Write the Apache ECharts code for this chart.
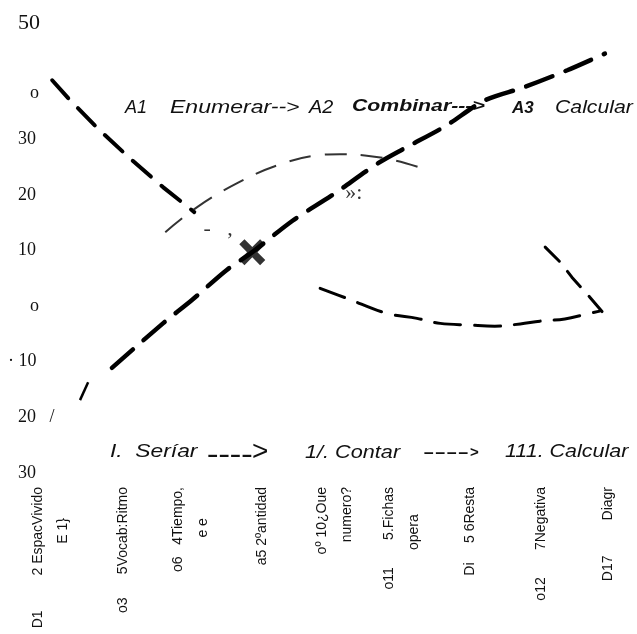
<!DOCTYPE html>
<html><head><meta charset="utf-8">
<script src="https://cdn.jsdelivr.net/npm/echarts@6/dist/echarts.min.js"></script>
<style>html,body{margin:0;padding:0;background:#fff}#c{width:637px;height:634px}</style>
</head><body><div id="c"></div>
<script>
// y axis ticks and their (scanned) labels
const yTickValues = [50, 40, 30, 20, 10, 0, -10, -20, -30];
const yTickLabels = ["50", "o", "30", "20", "10", "o", "· 10", "20   /", "30"];
const yTickStyle  = ["big", "low", "n", "n", "n", "o", "d", "n", "n"];

// x axis category positions and labels
const xLabelPos = [1.8, 14.3, 25.9, 38.3, 50.8, 62.4, 74.1, 86.4, 97.9];
const xLabels = [
  "D1         2 EspacVivido\nE 1}        ",
  "o3      5Vocab:Ritmo",
  "o6   4Tiempo,\ne e        ",
  "a5 2ºantidad",
  "oº 10¿Oue\nnumero?",
  "o11       5.Fichas\nopera       ",
  "Di     5 6Resta",
  "o12       7Negativa",
  "D17         Diagr"
];

// A1 Enumerar (heavy descending dashed line)
const enumX = [2.1, 5.2, 10.3, 15.9, 21.2, 26.6];
const enumY = [40.6, 37.0, 31.6, 26.2, 21.4, 16.9];
// lower arc
const lowX = [48.3, 52.9, 59.8, 65.0, 69.0, 74.1, 78.4, 82.8, 86.2, 90.5, 94.3, 96.5];
const lowY = [3.2, 1.4, -1.3, -2.2, -3.1, -3.4, -3.6, -3.2, -2.7, -2.3, -1.4, -0.9];
// right descending segment
const rightX = [87.1, 89.7, 91.7, 94.8, 97.9];
const rightY = [10.6, 7.9, 5.2, 1.6, -2.2];
// heavy ascending dashed line
const riseX = [12.4, 21.2, 26.2, 32.2, 36.6, 43.6, 50.3, 58.3, 62.9, 69.8, 76.7, 83.3, 90.9, 97.4];
const riseY = [-11.1, -3.1, 1.1, 6.5, 9.7, 15.4, 19.9, 25.7, 28.4, 32.3, 37.0, 39.3, 42.4, 45.4];
// thin arc
const arcX = [21.6, 27.1, 34.0, 40.9, 47.8, 51.7, 56.0, 61.2, 65.9];
const arcY = [13.3, 17.8, 22.1, 25.3, 27.1, 27.3, 27.1, 26.2, 24.8];
// short slash
const slashX = [6.9, 8.3];
const slashY = [-16.9, -13.7];
// cross mark and stray glyphs
const crossPt = [36.6, 9.7];
const glyphPts = [[30.7, 13.8], [54.1, 20.3]];
const glyphTexts = ["-   ,", "»:"];

const zip = (a, b) => a.map((v, i) => [v, b[i]]);
const chart = echarts.init(document.getElementById('c'));
const heavy = (w, d) => ({ color: '#000', width: w, type: d, cap: 'round' });
const txt = (x, y, text, font, sx) => ({
  type: 'text', x: x, y: y, scaleX: sx || 1,
  style: { text: text, font: font, fill: '#111', align: 'left', verticalAlign: 'middle' }
});

chart.setOption({
  animation: false,
  backgroundColor: '#fff',
  grid: { left: 40, right: 17, top: 28, bottom: 161 },
  xAxis: {
    type: 'value', min: 0, max: 100,
    axisLine: { show: false }, axisTick: { show: false }, splitLine: { show: false },
    axisLabel: {
      customValues: xLabelPos,
      rotate: 90, margin: 14, color: '#111',
      fontFamily: 'Liberation Sans', fontSize: 14, lineHeight: 25,
      hideOverlap: false,
      formatter: v => { const i = xLabelPos.indexOf(v); return i >= 0 ? xLabels[i] : ''; }
    }
  },
  yAxis: {
    type: 'value', min: -30, max: 50, interval: 10,
    axisLine: { show: false }, axisTick: { show: false }, splitLine: { show: false },
    axisLabel: {
      align: 'left', margin: 32, color: '#111',
      formatter: v => {
        const i = yTickValues.indexOf(v);
        return i >= 0 ? '{' + yTickStyle[i] + '|' + yTickLabels[i] + '}' : '';
      },
      rich: {
        n: { fontFamily: 'Liberation Serif', fontSize: 18, padding: [0, 0, 0, 10] },
        d: { fontFamily: 'Liberation Serif', fontSize: 18, padding: [0, 0, 0, 0] },
        o: { fontFamily: 'Liberation Serif', fontSize: 18, padding: [0, 0, 0, 22] },
        low: { fontFamily: 'Liberation Serif', fontSize: 18, padding: [20, 0, 0, 22] },
        big: { fontFamily: 'Liberation Serif', fontSize: 22, padding: [0, 0, 10, 10] }
      }
    }
  },
  series: [
    { type: 'line', data: zip(enumX, enumY), symbol: 'none', lineStyle: heavy(4, [24, 14]) },
    { type: 'line', data: zip(lowX, lowY), symbol: 'none', smooth: 0.4, lineStyle: heavy(3, [26, 14]) },
    { type: 'line', data: zip(rightX, rightY), symbol: 'none', lineStyle: heavy(3, [20, 13]) },
    { type: 'line', data: zip(riseX, riseY), symbol: 'none', smooth: 0.3, lineStyle: heavy(4.5, [28, 14]) },
    { type: 'line', data: zip(arcX, arcY), symbol: 'none', smooth: 0.4, lineStyle: { color: '#333', width: 2, type: [22, 14] } },
    { type: 'line', data: zip(slashX, slashY), symbol: 'none', lineStyle: { color: '#000', width: 2.5 } },
    { type: 'scatter', data: [crossPt], symbolSize: 26,
      symbol: 'path://M0,2 L2,0 L5,3 L8,0 L10,2 L7,5 L10,8 L8,10 L5,7 L2,10 L0,8 L3,5 Z',
      itemStyle: { color: '#000' } },
    { type: 'scatter', symbolSize: 0,
      data: glyphPts.map((p, i) => ({ value: p, label: { show: true, formatter: glyphTexts[i] } })),
      label: { position: 'inside', color: '#000', fontFamily: 'Liberation Serif', fontSize: 22 } }
  ],
  graphic: [
    txt(125, 108, 'A1', 'italic 18px "Liberation Sans"'),
    txt(170, 108, 'Enumerar-->', 'italic 18px "Liberation Sans"', 1.28),
    txt(309, 108, 'A2', 'italic 18px "Liberation Sans"', 1.1),
    txt(352, 106, 'Combinar--->', 'italic bold 17px "Liberation Sans"', 1.25),
    txt(512, 108, 'A3', 'italic bold 17px "Liberation Sans"'),
    txt(555, 108, 'Calcular', 'italic 18px "Liberation Sans"', 1.18),
    txt(110, 452, 'I.  Seríar', 'italic 19px "Liberation Sans"', 1.2),
    txt(207, 456, '----', 'bold 18px "Liberation Sans"', 1.9),
    txt(252, 452, '>', '28px "Liberation Sans"'),
    txt(305, 453, '1/. Contar', 'italic 19px "Liberation Sans"', 1.14),
    txt(423, 453, '----', 'bold 15px "Liberation Sans"', 2.3),
    txt(470, 453, '>', 'bold 15px "Liberation Sans"'),
    txt(505, 452, '111. Calcular', 'italic 19px "Liberation Sans"', 1.13)
  ]
});
</script></body></html>
